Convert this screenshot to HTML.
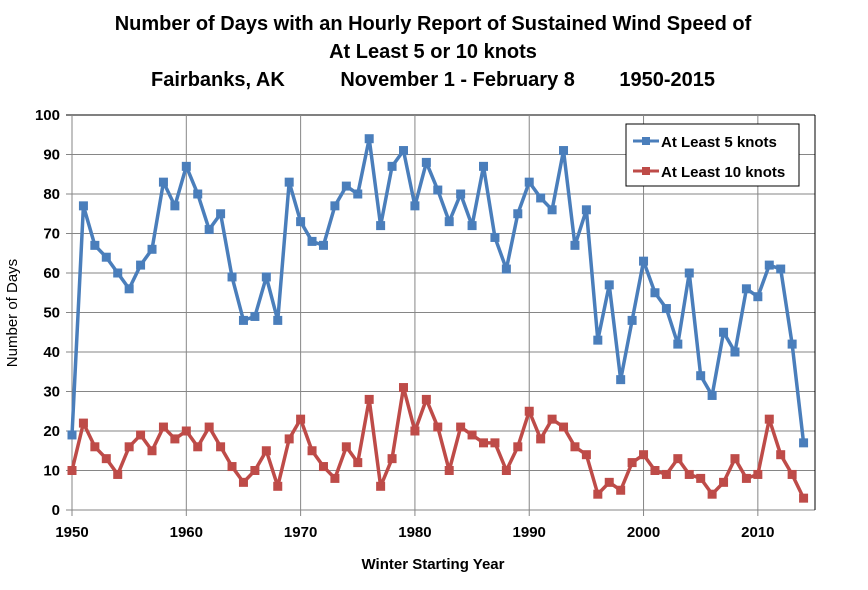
<!DOCTYPE html>
<html><head><meta charset="utf-8"><style>
body{margin:0;background:#fff;font-family:"Liberation Sans",sans-serif}
svg text{font-family:"Liberation Sans",sans-serif}
</style></head><body>
<svg id="chart" width="868" height="585" xmlns="http://www.w3.org/2000/svg">
<g font-weight="bold" font-size="20" text-anchor="middle" fill="#000">
<text x="433" y="30">Number of Days with an Hourly Report of Sustained Wind Speed of</text>
<text x="433" y="58">At Least 5 or 10 knots</text>
<text x="433" y="86" xml:space="preserve">Fairbanks, AK          November 1 - February 8        1950-2015</text>
</g>
<g id="grid"></g><g id="series"></g>
<text x="433" y="569" font-size="15" font-weight="bold" text-anchor="middle">Winter Starting Year</text>
<text transform="translate(17,313) rotate(-90)" font-size="15" text-anchor="middle">Number of Days</text>
<g>
<rect x="626" y="124" width="173" height="62" fill="#fff" stroke="#000" stroke-width="1"/>
<line x1="633" y1="141" x2="659" y2="141" stroke="#4a7ebb" stroke-width="3"/><rect x="642" y="137" width="8" height="8" fill="#4a7ebb"/>
<text x="661" y="147" font-size="15" font-weight="bold">At Least 5 knots</text>
<line x1="633" y1="171" x2="659" y2="171" stroke="#be4b48" stroke-width="3"/><rect x="642" y="167" width="8" height="8" fill="#be4b48"/>
<text x="661" y="177" font-size="15" font-weight="bold">At Least 10 knots</text>
</g>
</svg>
<script>
const years=[];for(let y=1950;y<=2014;y++)years.push(y);
const atLeast5=[19,77,67,64,60,56,62,66,83,77,87,80,71,75,59,48,49,59,48,83,73,68,67,77,82,80,94,72,87,91,77,88,81,73,80,72,87,69,61,75,83,79,76,91,67,76,43,57,33,48,63,55,51,42,60,34,29,45,40,56,54,62,61,42,17];
const atLeast10=[10,22,16,13,9,16,19,15,21,18,20,16,21,16,11,7,10,15,6,18,23,15,11,8,16,12,28,6,13,31,20,28,21,10,21,19,17,17,10,16,25,18,23,21,16,14,4,7,5,12,14,10,9,13,9,8,4,7,13,8,9,23,14,9,3];
const yTicks=[0,10,20,30,40,50,60,70,80,90,100];
const xTicks=[1950,1960,1970,1980,1990,2000,2010];
const L=72,R=815,T=115,B=510;
const xs=v=>L+(v-1950)/(2015-1950)*(R-L);
const ys=v=>B-v/100*(B-T);
const NS="http://www.w3.org/2000/svg";
const grid=document.getElementById('grid'),ser=document.getElementById('series');
function mk(tag,attrs,parent){const e=document.createElementNS(NS,tag);for(const k in attrs)e.setAttribute(k,attrs[k]);parent.appendChild(e);return e;}
yTicks.forEach(v=>{
 const g=mk('line',{x1:L-6,x2:R,y1:ys(v),y2:ys(v),stroke:v==100?'#000':'#868686','stroke-width':1},grid);
 
 
 const t=mk('text',{x:L-12,y:ys(v)+5,'text-anchor':'end','font-size':15,'font-weight':'bold'},grid);t.textContent=v;
 
 
});
xTicks.forEach(v=>{
 const g=mk('line',{x1:xs(v),x2:xs(v),y1:T,y2:B+6,stroke:'#868686','stroke-width':1},grid);
 
 
 const t=mk('text',{x:xs(v),y:B+27,'text-anchor':'middle','font-size':15,'font-weight':'bold'},grid);t.textContent=v;
 
 
});
const bx=mk('line',{x1:R,x2:R,y1:T,y2:B,stroke:'#000'},grid);


function draw(data,color,name){
 const p=mk('polyline',{points:data.map((v,i)=>xs(years[i])+','+ys(v)).join(' '),fill:'none',stroke:color,'stroke-width':3.5,'stroke-linejoin':'round'},ser);
 
 
 data.forEach((v,i)=>{
  const m=mk('rect',{x:xs(years[i])-4.5,y:ys(v)-4.5,width:9,height:9,fill:color},ser);
  
  
 });
}
draw(atLeast10,'#be4b48','series-10-knots');
draw(atLeast5,'#4a7ebb','series-5-knots');
</script>
</body></html>
